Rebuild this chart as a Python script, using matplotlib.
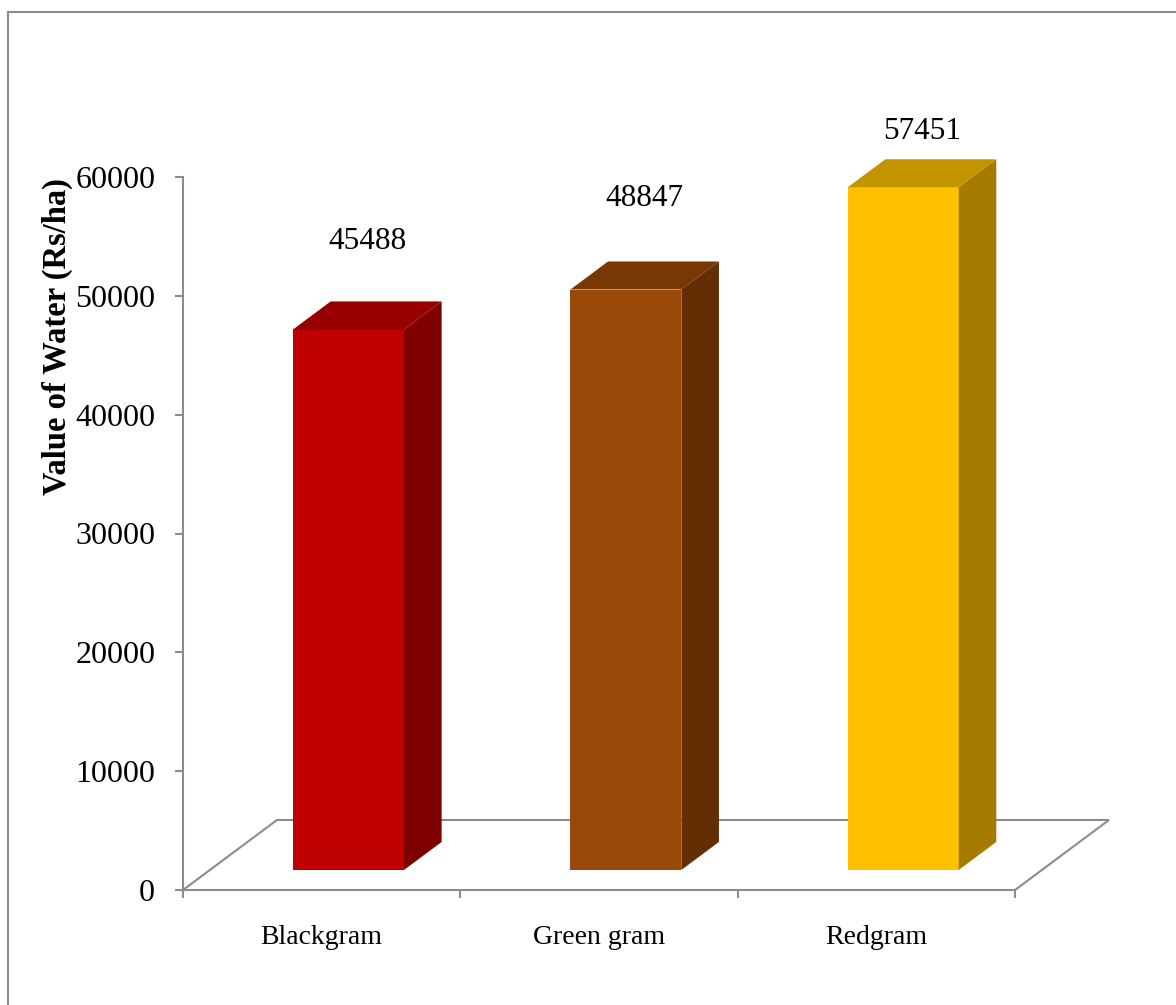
import matplotlib.pyplot as plt
from matplotlib.patches import Polygon
from matplotlib.lines import Line2D

plt.rcParams["font.family"] = ["Liberation Serif", "DejaVu Serif"]

crops = ["Blackgram", "Green gram", "Redgram"]
values = [45488, 48847, 57451]
y_ticks = [0, 10000, 20000, 30000, 40000, 50000, 60000]

# face colours: front, top, side
front_colors = ["#C00000", "#984807", "#FFC000"]
top_colors = ["#960000", "#773805", "#C49300"]
side_colors = ["#7F0000", "#632E04", "#A67C00"]
label_nudge = [7400, 7700, 4700]  # how far above the bar front the value sits

grey = "#8C8C8C"

# 3D look: floor depth in data units, bar sits between depth fractions z0..z1
depth_dx, depth_dy = 0.339, 5892
z0, z1 = 0.286, 0.686
bar_w = 0.40

fig = plt.figure(figsize=(11.76, 10.05), dpi=100)
W, H = 1176, 1005
ax = fig.add_axes([183 / W, (H - 890) / H, 832 / W, (890 - 177) / H])
ax.set_xlim(0, len(crops))
ax.set_ylim(0, 60000)

# floor
floor = Polygon([(0, 0), (len(crops), 0), (len(crops) + depth_dx, depth_dy),
                 (depth_dx, depth_dy)], closed=True, facecolor="white",
                edgecolor=grey, lw=1.5, clip_on=False, zorder=1)
ax.add_patch(floor)

for i, v in enumerate(values):
    x0 = i + 0.5 - bar_w / 2 + z0 * depth_dx
    y0 = z0 * depth_dy
    x1 = x0 + bar_w
    y1 = y0 + v
    sx = (z1 - z0) * depth_dx
    sy = (z1 - z0) * depth_dy
    front = Polygon([(x0, y0), (x1, y0), (x1, y1), (x0, y1)],
                    facecolor=front_colors[i], edgecolor="none", clip_on=False, zorder=3)
    side = Polygon([(x1, y0), (x1 + sx, y0 + sy), (x1 + sx, y1 + sy), (x1, y1)],
                   facecolor=side_colors[i], edgecolor="none", clip_on=False, zorder=3)
    top = Polygon([(x0, y1), (x1, y1), (x1 + sx, y1 + sy), (x0 + sx, y1 + sy)],
                  facecolor=top_colors[i], edgecolor="none", clip_on=False, zorder=3)
    for p in (front, side, top):
        ax.add_patch(p)
    ax.text(x0 + bar_w / 2 + sx / 2, y1 + label_nudge[i], str(v),
            ha="center", va="center", fontsize=22.5, clip_on=False)

for s in ["top", "right", "bottom"]:
    ax.spines[s].set_visible(False)
ax.spines["left"].set_color(grey)
ax.spines["left"].set_linewidth(1.5)

ax.set_yticks(y_ticks)
ax.set_yticklabels([str(t) for t in y_ticks])
ax.tick_params(axis="y", length=6, width=1.5, color=grey, labelsize=23, pad=14)

ax.set_xticks(range(len(crops) + 1))
ax.set_xticklabels([])
ax.set_xticks([i + 0.5 for i in range(len(crops))], minor=True)
ax.set_xticklabels(crops, minor=True)
ax.tick_params(axis="x", which="major", length=6, width=1.5, color=grey)
ax.tick_params(axis="x", which="minor", length=0, labelsize=20, pad=25)

ax.set_ylabel("Value of Water (Rs/ha)", fontsize=23.5, fontweight="bold")
ax.yaxis.set_label_coords(-0.132, 0.776)

# outer chart border (top and left visible)
fig.add_artist(Line2D([8 / W, 1], [1 - 12 / H, 1 - 12 / H], color=grey, lw=1.5))
fig.add_artist(Line2D([8 / W, 8 / W], [0, 1 - 12 / H], color=grey, lw=1.5))

fig.savefig("out.png", dpi=100)
